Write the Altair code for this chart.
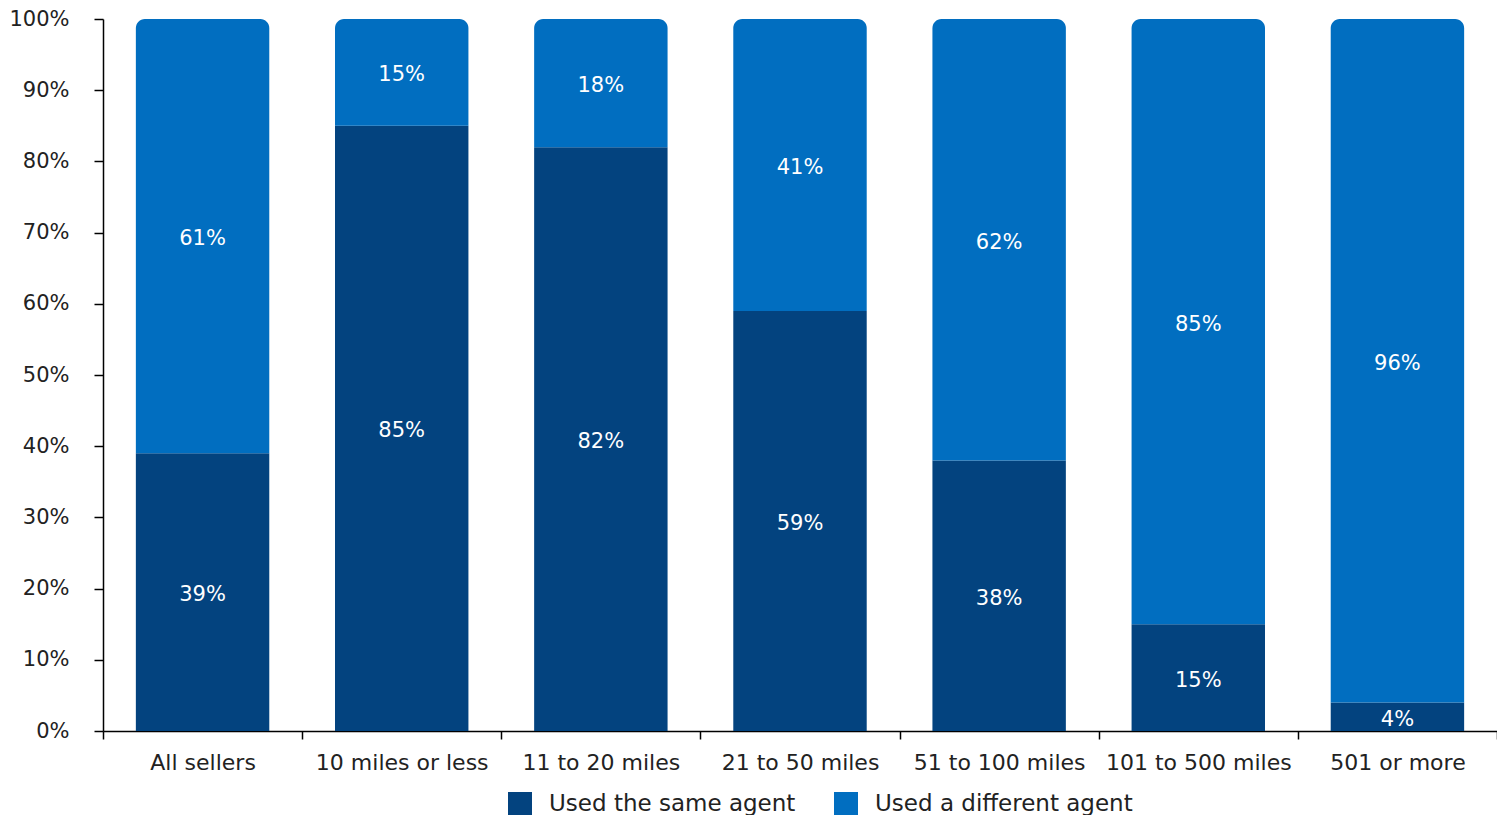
import altair as alt
import pandas as pd

categories = ["All sellers", "10 miles or less", "11 to 20 miles", "21 to 50 miles",
              "51 to 100 miles", "101 to 500 miles", "501 or more"]
same_agent = [39, 85, 82, 59, 38, 15, 4]
different_agent = [61, 15, 18, 41, 62, 85, 96]
series_names = ["Used the same agent", "Used a different agent"]
colors = ["#03437F", "#016EC0"]
y_ticks = [0, 10, 20, 30, 40, 50, 60, 70, 80, 90, 100]

rows = []
for c, s, d in zip(categories, same_agent, different_agent):
    rows.append({"category": c, "series": series_names[0], "start": 0, "end": s,
                 "mid": s / 2, "label": f"{s}%"})
    rows.append({"category": c, "series": series_names[1], "start": s, "end": s + d,
                 "mid": s + d / 2, "label": f"{d}%"})
df = pd.DataFrame(rows)

FONT = "DejaVu Sans"
TXT = "#222222"

x_axis = alt.Axis(labelAngle=0, labelFontSize=22, labelColor=TXT, labelFont=FONT,
                  domainColor="#000000", tickColor="#000000", tickSize=8,
                  tickBand="extent", labelPadding=13, domainWidth=1.5, tickWidth=1.5,
                  labelLimit=300)
y_axis = alt.Axis(values=y_ticks, labelExpr="datum.value + '%'", labelFontSize=21,
                  labelColor=TXT, labelFont=FONT, domainColor="#000000",
                  tickColor="#000000", tickSize=9, labelPadding=25, grid=False,
                  domainWidth=1.5, tickWidth=1.5)
x_scale = alt.Scale(paddingInner=0, paddingOuter=0)
y_scale = alt.Scale(domain=[0, 100], nice=False)

x = alt.X("category:N", sort=categories, title=None, scale=x_scale, axis=x_axis)
y = alt.Y("start:Q", title=None, scale=y_scale, axis=y_axis)
color = alt.Color("series:N", scale=alt.Scale(domain=series_names, range=colors),
                  title=None,
                  legend=alt.Legend(orient="none", legendX=405, legendY=773,
                                    direction="horizontal", symbolType="square",
                                    symbolSize=576, symbolStrokeWidth=0, labelFontSize=23,
                                    labelFont=FONT, labelColor=TXT, columnPadding=38,
                                    labelOffset=17, labelLimit=400))

base = alt.Chart(df)
bottom = base.transform_filter(alt.datum.series == series_names[0]).mark_bar(
    width={"band": 0.67}).encode(x=x, y=y, y2="end:Q", color=color)
top = base.transform_filter(alt.datum.series == series_names[1]).mark_bar(
    width={"band": 0.67}, cornerRadiusTopLeft=9, cornerRadiusTopRight=9).encode(
    x=x, y=y, y2="end:Q", color=color)
labels = base.mark_text(color="white", fontSize=21, font=FONT, dy=3).encode(
    x=alt.X("category:N", sort=categories, title=None, scale=x_scale, axis=x_axis),
    y=alt.Y("mid:Q", title=None, scale=y_scale, axis=y_axis),
    text="label:N")

chart = alt.layer(bottom, top, labels).properties(
    width=1394, height=712,
    background="white",
    autosize=alt.AutoSizeParams(type="none"),
    padding={"left": 95, "top": 11, "right": 0, "bottom": 84},
).configure_view(strokeWidth=0, stroke="transparent").configure_axis(grid=False)

chart.save("out.html", embed_options={"renderer": "svg", "actions": False})
